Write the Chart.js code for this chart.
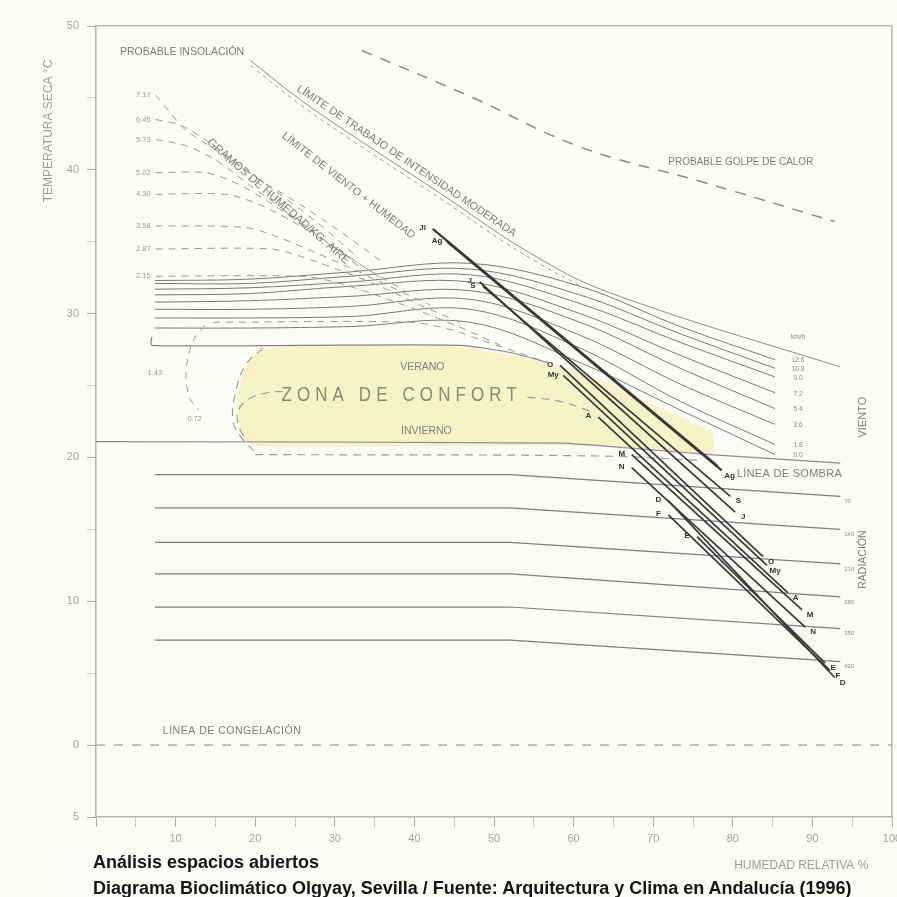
<!DOCTYPE html>
<html lang="es">
<head>
<meta charset="utf-8">
<title>Diagrama Bioclimático Olgyay, Sevilla</title>
<script src="https://cdn.jsdelivr.net/npm/chart.js@4.4.1/dist/chart.umd.min.js"></script>
<style>
  html, body { margin: 0; padding: 0; background: #fbfbf7; overflow: hidden; }
  #wrap { position: relative; width: 897px; height: 897px; }
  canvas { display: block; }
  .cap { position: absolute; left: 93px; font-family: 'Liberation Sans', Arial, sans-serif;
         font-weight: bold; font-size: 18px; line-height: 20px; color: #151515; white-space: nowrap; }
</style>
</head>
<body>
<div id="wrap">
  <canvas id="c" width="897" height="897"></canvas>
  <div class="cap" style="top:852px">Análisis espacios abiertos</div>
  <div class="cap" style="top:878px">Diagrama Bioclimático Olgyay, Sevilla / Fuente: Arquitectura y Clima en Andalucía (1996)</div>
</div>
<script>
// ---------- Datos (HR % en x, temperatura seca °C en y) ----------

// Rectas mensuales: de (HR mín, T máx) a (HR máx, T mín)
const months   = ['E', 'F', 'M', 'A', 'My', 'J', 'Jl', 'Ag', 'S', 'O', 'N', 'D'];
const tMax     = [14.5, 16.0, 20.2, 22.8, 25.7, 32.2, 35.9, 35.0, 31.9, 26.4, 19.3, 17.0];
const rhAtTMax = [75.5, 71.9, 67.3, 63.1, 58.7, 48.2, 42.3, 44.1, 48.6, 58.3, 67.3, 71.9];
const tMin     = [5.7, 5.2, 9.4, 10.6, 12.5, 16.2, 19.4, 19.1, 17.3, 13.1, 8.2, 4.7];
const rhAtTMin = [91.6, 92.2, 88.7, 86.9, 84.3, 80.3, 78.1, 78.6, 79.7, 83.8, 89.1, 92.8];

// Zona de confort (contorno)
const comfortRH = [20.9, 25.6, 38.2, 45.7, 52.0, 56.8, 60.8, 65.8, 70.9, 75.9, 77.4, 77.4, 73.4, 65.8, 58.3, 38.2, 20.6, 18.7, 17.8, 17.8, 18.5, 19.6];
const comfortT  = [27.5, 27.8, 27.8, 27.7, 27.1, 26.6, 25.9, 24.8, 23.4, 22.2, 21.8, 20.3, 20.4, 20.7, 20.8, 20.8, 20.8, 21.2, 22.6, 24.3, 25.9, 27.0];
const comfortTopRH = [7.0, 7.0, 25.6, 45.7, 52.0, 56.8];
const comfortTopT  = [28.4, 27.8, 27.8, 27.8, 27.3, 26.6];
const comfortOuterRH = [21.0, 19.0, 17.7, 17.2, 18.5, 20.0];
const comfortOuterT  = [27.6, 26.6, 24.9, 22.6, 21.2, 20.4];
const comfortInnerRH = [23.5, 21.5, 19.0, 17.8, 18.1, 19.1];
const comfortInnerT  = [24.6, 24.5, 24.0, 23.1, 21.9, 21.2];
const comfortMidRH = [54.2, 58.3, 62.7];
const comfortMidT  = [24.2, 23.9, 23.1];
const comfortLowRH = [20.0, 63.3, 75.9];
const comfortLowT  = [20.2, 20.1, 19.8];

// Línea de sombra
const shadeRH = [0, 58.3, 68.3, 77.1, 93.5];
const shadeT  = [21.1, 21.0, 20.6, 20.2, 19.6];

// Radiación
const radLabels = ['70', '140', '210', '280', '350', '420'];
const radRH = [7.4, 52.0, 93.5];
const radT = [
  [18.8, 18.8, 17.3],
  [16.5, 16.5, 15.0],
  [14.1, 14.1, 12.6],
  [11.9, 11.9, 10.3],
  [9.6, 9.6, 8.1],
  [7.3, 7.3, 5.8]
];

// Viento
const windUnit = 'km/h';
const windLabels = ['12.6', '10.8', '9.0', '7.2', '5.4', '3.6', '1.8', '0.0'];
const windRH = [7.4, 19.4, 31.9, 47.0, 60.8, 73.4, 85.3];
const windT = [
  [32.3, 32.4, 32.9, 33.5, 31.9, 29.1, 26.8],
  [32.1, 32.1, 32.6, 33.1, 31.3, 28.6, 26.2],
  [31.7, 31.8, 32.2, 32.7, 30.7, 28.0, 25.6],
  [31.3, 31.4, 31.9, 32.2, 30.0, 27.1, 24.5],
  [30.8, 30.9, 31.2, 31.6, 29.4, 26.2, 23.4],
  [30.3, 30.3, 30.5, 31.0, 28.5, 25.1, 22.3],
  [29.7, 29.7, 29.8, 30.3, 27.6, 23.9, 20.9],
  [29.0, 29.0, 29.1, 29.4, 26.6, 23.3, 20.2]
];

// Límite de trabajo de intensidad moderada
const workRH = [19.4, 25.6, 31.9, 38.2, 44.5, 50.8, 55.8, 60.8, 65.8, 75.9, 84.7, 93.5];
const workT  = [47.6, 44.9, 42.5, 40.2, 37.9, 35.5, 33.8, 32.3, 31.2, 29.3, 27.8, 26.3];

// Probable golpe de calor
const heatRH = [33.4, 47.0, 60.8, 75.9, 92.8];
const heatT  = [48.3, 45.1, 41.6, 39.2, 36.4];

// Gramos de humedad / kg de aire
const humLabels = ['7.17', '6.45', '5.73', '5.02', '4.30', '3.58', '2.87', '2.15', '1.43', '0.72'];
const humRH = [
  [7.5, 9.3, 11.2, 15.0, 20.6, 25.6, 30.7, 35.7],
  [7.5, 10.6, 13.7, 18.1, 23.1, 28.1, 32.5],
  [7.5, 11.2, 15.0, 19.4, 24.4, 29.4, 33.2],
  [7.5, 13.7, 17.5, 21.9, 26.9, 31.9, 36.3],
  [7.5, 16.2, 20.0, 24.4, 29.4, 34.4, 38.8],
  [7.5, 18.7, 22.5, 26.9, 31.9, 36.9, 42.0],
  [7.5, 21.9, 25.6, 30.7, 35.7, 40.7, 45.7],
  [7.5, 25.6, 30.0, 35.1, 40.1, 45.1, 50.8],
  [14.7, 39.5, 44.5, 48.2, 56.7],
  [13.7, 12.4, 11.6, 11.3, 11.8, 12.9]
];
const humT = [
  [45.2, 44.0, 42.8, 41.4, 39.3, 37.6, 35.7, 33.7],
  [43.5, 43.1, 42.1, 40.3, 38.3, 36.2, 34.1],
  [42.1, 41.7, 40.7, 38.9, 36.9, 34.8, 33.2],
  [39.8, 39.8, 39.1, 37.7, 35.8, 33.9, 32.3],
  [38.3, 38.3, 37.7, 36.5, 34.8, 33.0, 31.6],
  [36.1, 36.0, 35.4, 34.4, 33.2, 31.9, 30.6],
  [34.5, 34.5, 34.0, 33.0, 31.9, 30.6, 29.4],
  [32.6, 32.6, 32.2, 31.3, 30.3, 29.2, 27.8],
  [29.4, 29.4, 28.9, 28.2, 26.6],
  [29.2, 28.3, 27.1, 25.5, 24.1, 23.3]
];

// Ejes
const yTickText = { '50': '50', '40': '40', '30': '30', '20': '20', '10': '10', '0': '0', '-5': '5' };
const xTickStep = 10;

// ---------- Estilo ----------
const FONT = "'Liberation Sans', Arial, sans-serif";
const GREY = '#7d7d7d';

const pts = (xs, ys) => xs.map((v, i) => ({ x: v, y: ys[i] }));
const line = (data, o) => Object.assign({
  data, showLine: true, pointRadius: 0, pointHoverRadius: 0,
  borderWidth: 1, borderColor: '#808080', fill: false, tension: 0
}, o);

const datasets = [];
datasets.push(line(pts(comfortRH, comfortT), {
  fill: 'shape', backgroundColor: '#f8f3c7', borderColor: 'rgba(0,0,0,0)', tension: 0.25, order: 90
}));
datasets.push(line(pts([0, 100], [0, 0]), { borderColor: '#acacac', borderWidth: 1.5, borderDash: [9, 9], order: 80 }));
datasets.push(line(pts(heatRH, heatT), { borderColor: '#8a8a8a', borderWidth: 1.5, borderDash: [11, 9], tension: 0.4, order: 80 }));
datasets.push(line(pts(workRH, workT), { borderColor: '#8c8c8c', borderWidth: 1, tension: 0.35, order: 70 }));
datasets.push(line(pts(workRH.slice(0, 8), workT.slice(0, 8).map(v => v - 0.35)), {
  borderColor: '#a0a0a0', borderWidth: 1, borderDash: [4, 4], tension: 0.35, order: 70
}));
windT.forEach(row => datasets.push(line(pts(windRH, row), { borderColor: '#7a7a7a', borderWidth: 1, tension: 0.35, order: 60 })));
datasets.push(line(pts(comfortTopRH, comfortTopT), { borderColor: '#858585', borderWidth: 1.2, tension: 0.2, order: 60 }));
datasets.push(line(pts(shadeRH, shadeT), { borderColor: '#8e8e8e', borderWidth: 1.2, tension: 0.2, order: 60 }));
radT.forEach(row => datasets.push(line(pts(radRH, row), { borderColor: '#7f7f7f', borderWidth: 1.2, order: 60 })));
humRH.forEach((xs, i) => datasets.push(line(pts(xs, humT[i]), {
  borderColor: '#9a9a9a', borderWidth: 1, borderDash: [7, 6], tension: 0.3, order: 55
})));
[[comfortOuterRH, comfortOuterT], [comfortInnerRH, comfortInnerT], [comfortMidRH, comfortMidT], [comfortLowRH, comfortLowT]]
  .forEach(([xs, ys]) => datasets.push(line(pts(xs, ys), {
    borderColor: '#9c9c9c', borderWidth: 1.2, borderDash: [8, 6], tension: 0.4, order: 55
  })));
months.forEach((m, i) => datasets.push(line(pts([rhAtTMax[i], rhAtTMin[i]], [tMax[i], tMin[i]]), {
  label: m, borderColor: '#383838', borderWidth: (m === 'Jl' || m === 'Ag') ? 2.2 : 1.7, order: 10
})));

// Rótulos en coordenadas del diagrama (HR, T)
const notes = [
  { text: 'PROBABLE INSOLACIÓN', rh: 3.0, t: 48.2, size: 10.5, align: 'left' },
  { text: 'PROBABLE GOLPE DE CALOR', rh: 71.9, t: 40.5, size: 10, align: 'left' },
  { text: 'LÍMITE DE TRABAJO DE INTENSIDAD MODERADA', rh: 39.0, t: 40.6, size: 11, rot: 34 },
  { text: 'LÍMITE DE VIENTO + HUMEDAD', rh: 31.7, t: 38.9, size: 11, rot: 38 },
  { text: 'GRAMOS DE HUMEDAD/KG. AIRE', rh: 22.9, t: 37.8, size: 11.5, rot: 41 },
  { text: 'VERANO', rh: 41.0, t: 26.3, size: 10.5 },
  { text: 'INVIERNO', rh: 41.5, t: 21.8, size: 10.5 },
  { text: 'ZONA DE CONFORT', rh: 38.4, t: 24.3, size: 20, spacing: 6, sx: 0.85, color: '#8b8970' },
  { text: 'LÍNEA DE SOMBRA', rh: 80.5, t: 18.85, size: 11, align: 'left', spacing: 0.3 },
  { text: 'LÍNEA DE CONGELACIÓN', rh: 8.4, t: 1.0, size: 10.5, align: 'left', spacing: 0.5 },
  { text: 'VIENTO', rh: 96.3, t: 22.8, size: 11, rot: -90 },
  { text: 'RADIACIÓN', rh: 96.4, t: 12.9, size: 10.5, rot: -90 },
  { text: 'TEMPERATURA SECA °C', rh: -5.9, t: 42.7, size: 12, rot: -90, color: '#9c9c9c' },
  { text: 'HUMEDAD RELATIVA %', rh: 88.6, t: -8.4, size: 12, color: '#9c9c9c' },
  { text: '1.43', rh: 7.4, t: 25.9, size: 7.5, color: '#999' }
];

// Rótulos anclados a los extremos de las líneas (desplazamiento en píxeles)
const anchored = [];
months.forEach((m, i) => {
  anchored.push({ text: m, rh: rhAtTMax[i], t: tMax[i], dx: -10, dy: -1, size: 8, weight: 'bold', color: '#333' });
  if (m !== 'Jl') anchored.push({ text: m, rh: rhAtTMin[i], t: tMin[i], dx: 8, dy: 5, size: 8, weight: 'bold', color: '#333' });
});
windT.forEach((row, i) => anchored.push({ text: windLabels[i], rh: windRH[windRH.length - 1], t: row[row.length - 1], dx: 23, dy: 1, size: 6.5, color: '#8a8a8a' }));
anchored.push({ text: windUnit, rh: windRH[windRH.length - 1], t: windT[0][windT[0].length - 1], dx: 23, dy: -22, size: 6.5, color: '#8a8a8a' });
radT.forEach((row, i) => anchored.push({ text: radLabels[i], rh: radRH[radRH.length - 1], t: row[row.length - 1], dx: 4, dy: 5, size: 6, align: 'left', color: '#8a8a8a' }));
humLabels.slice(0, 8).forEach((lab, i) => anchored.push({ text: lab, rh: humRH[i][0], t: humT[i][0], dx: -5, dy: 0, size: 7.5, align: 'right', color: '#999' }));
anchored.push({ text: humLabels[9], rh: humRH[9][humRH[9].length - 1], t: humT[9][humT[9].length - 1], dx: -4, dy: 9, size: 7, color: '#999' });

const textPlugin = {
  id: 'olgyayText',
  afterDatasetsDraw(chart) {
    const { ctx, scales: { x, y } } = chart;
    for (const a of notes.concat(anchored)) {
      const px = x.getPixelForValue(a.rh) + (a.dx || 0);
      const py = y.getPixelForValue(a.t) + (a.dy || 0);
      ctx.save();
      ctx.translate(px, py);
      if (a.rot) ctx.rotate(a.rot * Math.PI / 180);
      if (a.sx) ctx.scale(a.sx, 1);
      ctx.font = `${a.weight || 'normal'} ${a.size}px ${FONT}`;
      ctx.fillStyle = a.color || GREY;
      ctx.textAlign = a.align || 'center';
      ctx.textBaseline = 'middle';
      ctx.letterSpacing = (a.spacing || 0) + 'px';
      ctx.fillText(a.text, 0, 0);
      ctx.restore();
    }
  }
};

const tickFont = { family: FONT, size: 11 };
const tickGrey = '#a3a3a3';

new Chart(document.getElementById('c'), {
  type: 'scatter',
  data: { datasets },
  options: {
    responsive: false,
    animation: false,
    devicePixelRatio: 1,
    layout: { padding: { top: 26, right: 5, bottom: 40, left: 0 } },
    plugins: { legend: { display: false }, tooltip: { enabled: false } },
    scales: {
      x: {
        type: 'linear', position: 'bottom', min: 0, max: 100,
        afterFit(s) { s.height = 40; s.paddingLeft = 0; s.paddingRight = 0; },
        border: { color: '#b4b4b0', width: 1.5 },
        grid: { drawOnChartArea: false, drawTicks: true, tickLength: 10,
                tickColor: c => (c.tick && c.tick.value % xTickStep === 0) ? '#ababab' : '#c8c8c8' },
        ticks: { stepSize: 5, autoSkip: false, maxRotation: 0, padding: 5, color: tickGrey, font: tickFont,
                 callback: v => (v % xTickStep === 0 && v !== 0) ? String(v) : '' }
      },
      y: {
        type: 'linear', position: 'left', min: -5, max: 50,
        afterFit(s) { s.width = 96; s.paddingTop = 0; s.paddingBottom = 0; },
        border: { color: '#b4b4b0', width: 1.5 },
        grid: { drawOnChartArea: false, drawTicks: true, tickLength: 9,
                tickColor: c => (c.tick && yTickText[String(c.tick.value)] !== undefined) ? '#ababab' : '#cfcfcf' },
        ticks: { stepSize: 5, autoSkip: false, padding: 8, color: tickGrey, font: tickFont,
                 callback: v => yTickText[String(v)] ?? '' }
      },
      xTop: {
        type: 'linear', position: 'top', min: 0, max: 100,
        afterFit(s) { s.height = 0; s.paddingLeft = 0; s.paddingRight = 0; },
        border: { color: '#bdbdb8', width: 1.5 },
        grid: { drawOnChartArea: false, drawTicks: false },
        ticks: { display: false }
      },
      yRight: {
        type: 'linear', position: 'right', min: -5, max: 50,
        afterFit(s) { s.width = 0; s.paddingTop = 0; s.paddingBottom = 0; },
        border: { color: '#bdbdb8', width: 1.5 },
        grid: { drawOnChartArea: false, drawTicks: false },
        ticks: { display: false }
      }
    }
  },
  plugins: [textPlugin]
});
</script>
</body>
</html>
